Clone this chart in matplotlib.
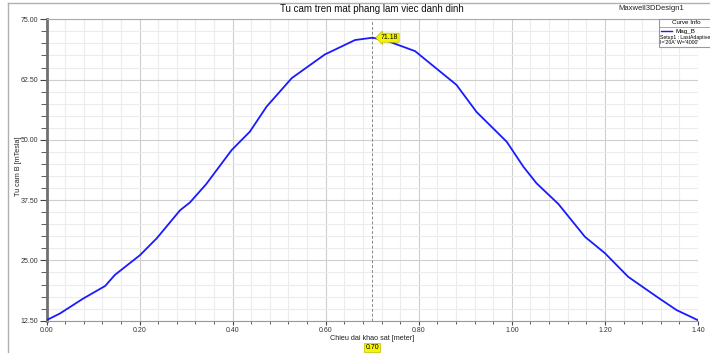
import matplotlib
matplotlib.use("Agg")
import matplotlib.pyplot as plt
from matplotlib.lines import Line2D
from matplotlib.patches import Rectangle
from matplotlib.ticker import MultipleLocator, FormatStrFormatter

# values
dist = [0.0, 0.029, 0.079, 0.126, 0.147, 0.201, 0.237, 0.287, 0.308, 0.343,
        0.398, 0.437, 0.473, 0.527, 0.598, 0.663, 0.70, 0.727, 0.792, 0.881,
        0.924, 0.989, 1.025, 1.053, 1.100, 1.157, 1.200, 1.250, 1.311, 1.354, 1.40]
mag_b = [12.6, 14.0, 17.1, 19.7, 22.0, 26.1, 29.6, 35.4, 37.0, 40.8,
         47.9, 51.7, 56.9, 62.8, 67.7, 70.7, 71.18, 70.7, 68.4, 61.4,
         55.8, 49.6, 44.4, 41.0, 36.7, 29.9, 26.5, 21.6, 17.5, 14.7, 12.6]
marker_x = 0.70
marker_y = 71.18

title = "Tu cam tren mat phang lam viec danh dinh"
design = "Maxwell3DDesign1"
xlabel = "Chieu dai khao sat [meter]"
ylabel = "Tu cam B [mTesla]"
legend_lines = ["Setup1 : LastAdaptive", "I='20A' W='4000'"]

plt.rcParams['font.family'] = ['Liberation Sans', 'DejaVu Sans']

W, H = 710, 353
fig = plt.figure(figsize=(W / 100, H / 100), dpi=100)

def fx(px):
    return px / W

def fy(py):
    return 1 - py / H

left, right, top, bottom = 46.5, 698, 19.3, 320.7
ax = fig.add_axes([fx(left), fy(bottom), (right - left) / W, (bottom - top) / H])

ax.plot(dist, mag_b, color='#1a1aff', lw=1.3, zorder=3)
ax.axvline(marker_x, color='#888888', ls=(0, (3, 2)), lw=0.7, zorder=2)

ax.set_xlim(0, 1.4)
ax.set_ylim(12.5, 75)
ax.xaxis.set_major_locator(MultipleLocator(0.2))
ax.xaxis.set_minor_locator(MultipleLocator(0.04))
ax.yaxis.set_major_locator(MultipleLocator(12.5))
ax.yaxis.set_minor_locator(MultipleLocator(2.5))
ax.xaxis.set_major_formatter(FormatStrFormatter('%.2f'))
ax.yaxis.set_major_formatter(FormatStrFormatter('%.2f'))

ax.grid(which='major', color='#cfcfcf', lw=0.8)
ax.grid(which='minor', color='#ececec', lw=0.8)
ax.set_axisbelow(True)

ax.tick_params(axis='both', which='both', labelsize=5, colors='#444444',
               labelcolor='#333333')
ax.tick_params(axis='x', which='major', length=3, width=0.8, pad=1.5)
ax.tick_params(axis='x', which='minor', length=2, width=0.6)
ax.tick_params(axis='y', which='major', length=5, width=0.8, pad=1)
ax.tick_params(axis='y', which='minor', length=4, width=0.6)

ax.spines['left'].set_color('#707070')
ax.spines['left'].set_linewidth(2)
ax.spines['bottom'].set_color('#999999')
ax.spines['bottom'].set_linewidth(0.8)
ax.spines['top'].set_color('#aaaaaa')
ax.spines['top'].set_linewidth(0.8)
ax.spines['right'].set_visible(False)

# x label and y label placed as in the reference
fig.text(fx(372), fy(338), xlabel, fontsize=5.2, ha='center', va='center', color='#222222')
fig.text(fx(18), fy(166), ylabel, fontsize=5.2, rotation=90, ha='center', va='center',
         color='#222222')

# title and design name
fig.text(fx(372), fy(9), title, fontsize=7, ha='center', va='center', color='#111111')
fig.text(fx(651), fy(9), design, fontsize=5.5, ha='center', va='center', color='#222222')

# figure frame lines
fig.add_artist(Line2D([fx(8), fx(8)], [0, fy(3)], color='#b0b0b0', lw=1))
fig.add_artist(Line2D([fx(8), 1], [fy(3), fy(3)], color='#b0b0b0', lw=1))
fig.add_artist(Line2D([fx(right), 1], [fy(top), fy(top)], color='#aaaaaa', lw=0.8))

# marker value labels
ax.annotate(f"{marker_y:.2f}", xy=(marker_x, marker_y), xytext=(6, 0),
            textcoords='offset points', fontsize=5, va='center', ha='left', zorder=5,
            bbox=dict(boxstyle='larrow,pad=0.15', fc='#f5f500', ec='#bdbd00', lw=0.5))
ax.annotate(f"{marker_x:.2f}", xy=(marker_x, 0), xycoords=('data', 'axes fraction'),
            xytext=(0, -19.5), textcoords='offset points', fontsize=5, ha='center',
            va='center', annotation_clip=False,
            bbox=dict(boxstyle='square,pad=0.15', fc='#f5f500', ec='#bdbd00', lw=0.5))

# curve info box
fig.add_artist(Rectangle((fx(659), fy(47)), fx(60), (47 - 19) / H, transform=fig.transFigure,
                         fc='white', ec='#999999', lw=0.8, zorder=6))
fig.text(fx(686), fy(23), "Curve Info", fontsize=4.5, ha='center', va='center', zorder=7)
fig.add_artist(Line2D([fx(659), 1], [fy(27), fy(27)], color='#999999', lw=0.6, zorder=7))
fig.add_artist(Line2D([fx(661), fx(672)], [fy(31), fy(31)], color='#1a1aff', lw=1, zorder=7))
fig.text(fx(676), fy(31), "Mag_B", fontsize=4.5, ha='left', va='center', zorder=7)
fig.text(fx(660), fy(37), legend_lines[0], fontsize=3.7, ha='left', va='center', zorder=7)
fig.text(fx(660), fy(43), legend_lines[1], fontsize=3.7, ha='left', va='center', zorder=7)

fig.savefig("out.png", dpi=100)
